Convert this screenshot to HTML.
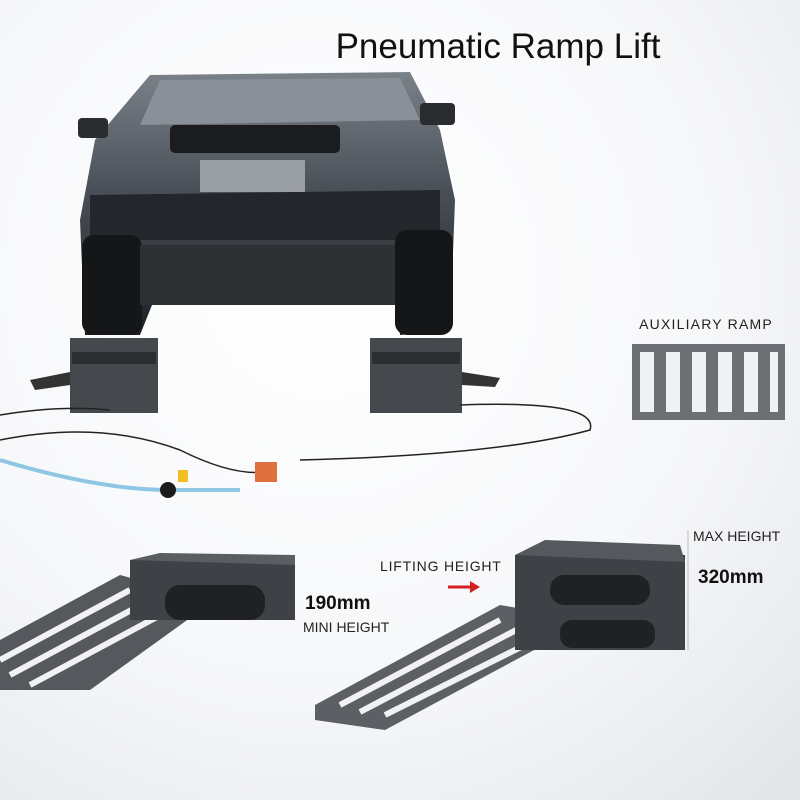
<!DOCTYPE html>
<html><head><style>
body{margin:0;width:800px;height:800px;overflow:hidden;background:#fff;font-family:"Liberation Sans",sans-serif}
</style></head><body>
<svg width="800" height="800" viewBox="0 0 800 800" xmlns="http://www.w3.org/2000/svg">
<defs>
<radialGradient id="bg" cx="0.4" cy="0.35" r="0.85"><stop offset="0" stop-color="#ffffff"/><stop offset="0.6" stop-color="#f6f7f9"/><stop offset="1" stop-color="#e4e6ea"/></radialGradient>
<linearGradient id="car" x1="0" y1="0" x2="0" y2="1"><stop offset="0" stop-color="#7a8189"/><stop offset="0.45" stop-color="#4a5058"/><stop offset="1" stop-color="#1e2024"/></linearGradient>
</defs>
<rect width="800" height="800" fill="url(#bg)"/>
<text x="498" y="58" font-size="35" text-anchor="middle" fill="#111">Pneumatic Ramp Lift</text>
<!-- car -->
<path d="M150 75 L410 72 L440 130 L455 200 L450 330 L400 335 L395 280 L160 285 L140 335 L85 335 L80 220 L95 140 Z" fill="url(#car)"/>
<path d="M160 80 L400 78 L420 120 L140 125 Z" fill="#8a9098"/>
<rect x="170" y="125" width="170" height="28" rx="5" fill="#1a1c1f"/>
<rect x="200" y="160" width="105" height="32" fill="#9a9ea5"/>
<path d="M90 195 L440 190 L440 240 L90 240 Z" fill="#23262a"/>
<rect x="82" y="235" width="60" height="100" rx="12" fill="#151618"/>
<rect x="395" y="230" width="58" height="105" rx="12" fill="#151618"/>
<rect x="140" y="245" width="255" height="60" fill="#2e3034"/>
<rect x="78" y="118" width="30" height="20" rx="4" fill="#2a2c30"/>
<rect x="420" y="103" width="35" height="22" rx="4" fill="#2a2c30"/>
<!-- lifts under car -->
<rect x="70" y="338" width="88" height="75" fill="#45484d"/>
<rect x="72" y="352" width="84" height="12" fill="#2b2d30"/>
<rect x="370" y="338" width="92" height="75" fill="#45484d"/>
<rect x="372" y="352" width="88" height="12" fill="#2b2d30"/>
<path d="M30 380 L70 372 L70 385 L35 390 Z" fill="#333"/>
<path d="M462 372 L500 378 L495 387 L462 385 Z" fill="#333"/>
<!-- hoses -->
<path d="M0 415 Q60 405 110 410 M0 440 Q100 420 180 450 Q240 480 275 470 M460 405 Q600 400 590 430 Q500 455 300 460" stroke="#222" stroke-width="1.5" fill="none"/>
<path d="M0 460 Q100 490 170 490 L240 490" stroke="#8fc6e4" stroke-width="4" fill="none"/>
<circle cx="168" cy="490" r="8" fill="#1c1c1c"/>
<rect x="255" y="462" width="22" height="20" fill="#e07040"/>
<rect x="178" y="470" width="10" height="12" fill="#f0c020"/>
<!-- aux ramp -->
<text x="706" y="329" font-size="14" text-anchor="middle" fill="#222" letter-spacing="1.2">AUXILIARY RAMP</text>
<rect x="632" y="344" width="153" height="76" fill="#6c6f74"/>
<rect x="640" y="352" width="14" height="60" fill="#f0f1f3"/>
<rect x="666" y="352" width="14" height="60" fill="#f0f1f3"/>
<rect x="692" y="352" width="14" height="60" fill="#f0f1f3"/>
<rect x="718" y="352" width="14" height="60" fill="#f0f1f3"/>
<rect x="744" y="352" width="14" height="60" fill="#f0f1f3"/>
<rect x="770" y="352" width="8" height="60" fill="#f0f1f3"/>
<!-- bottom left lift -->
<path d="M0 640 L120 575 L215 600 L90 690 L0 690 Z" fill="#55585d"/>
<path d="M0 660 L130 590 M10 675 L150 600 M30 685 L170 610" stroke="#f2f2f2" stroke-width="6"/>
<rect x="130" y="560" width="165" height="60" fill="#3e4146"/>
<path d="M130 560 L160 553 L295 555 L295 565 Z" fill="#5a5d62"/>
<rect x="165" y="585" width="100" height="35" rx="15" fill="#1f2124"/>
<text x="305" y="609" font-size="19" font-weight="bold" fill="#111">190mm</text>
<text x="303" y="632" font-size="14" fill="#222">MINI HEIGHT</text>
<!-- bottom right lift -->
<path d="M315 705 L500 605 L590 620 L385 730 L315 720 Z" fill="#5c5f64"/>
<path d="M340 705 L500 620 M360 712 L520 628 M385 715 L545 635" stroke="#f2f2f2" stroke-width="6"/>
<rect x="515" y="555" width="170" height="95" fill="#3e4146"/>
<path d="M515 555 L545 540 L680 545 L685 562 Z" fill="#55585d"/>
<rect x="550" y="575" width="100" height="30" rx="14" fill="#1f2124"/>
<rect x="560" y="620" width="95" height="28" rx="12" fill="#1f2124"/>
<text x="380" y="571" font-size="14" fill="#222" letter-spacing="0.8">LIFTING HEIGHT</text>
<path d="M448 587 L472 587" stroke="#d42020" stroke-width="3"/>
<path d="M470 581 L480 587 L470 593 Z" fill="#d42020"/>
<text x="693" y="541" font-size="14" fill="#222">MAX HEIGHT</text>
<text x="698" y="583" font-size="19" font-weight="bold" fill="#111">320mm</text>
<line x1="688" y1="530" x2="688" y2="650" stroke="#bbb" stroke-width="1"/>
</svg>
</body></html>
